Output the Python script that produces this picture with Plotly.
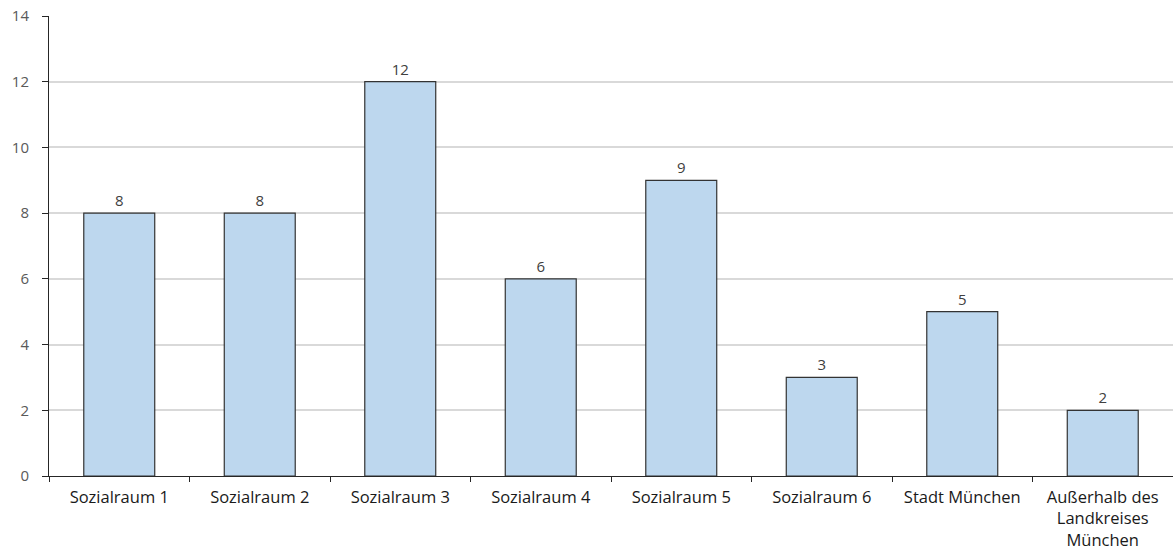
import plotly.graph_objects as go

# Anzahl je Herkunftsgebiet
categories = [
    "Sozialraum 1", "Sozialraum 2", "Sozialraum 3", "Sozialraum 4",
    "Sozialraum 5", "Sozialraum 6", "Stadt München",
    "Außerhalb des<br>Landkreises<br>München",
]
values = [8, 8, 12, 6, 9, 3, 5, 2]
y_ticks = [0, 2, 4, 6, 8, 10, 12, 14]

FONT = "Open Sans, DejaVu Sans, sans-serif"

fig = go.Figure(
    go.Bar(
        x=categories,
        y=values,
        width=0.505,
        marker=dict(color="#BDD7EE", line=dict(color="#333333", width=1.2)),
        text=[str(v) for v in values],
        textposition="outside",
        textfont=dict(family=FONT, size=15, color="#404040"),
        cliponaxis=False,
    )
)

fig.update_layout(
    width=1173,
    height=550,
    margin=dict(l=49, r=0, t=16, b=74),
    plot_bgcolor="white",
    paper_bgcolor="white",
    showlegend=False,
    font=dict(family=FONT, size=15, color="#404040"),
)

fig.update_xaxes(
    type="category",
    showline=True,
    linecolor="#262626",
    linewidth=1,
    ticks="outside",
    tickson="boundaries",
    ticklen=5,
    tickcolor="#262626",
    tickfont=dict(family=FONT, size=16.5, color="#1a1a1a"),
    ticklabelstandoff=6,
    showgrid=False,
)

fig.update_yaxes(
    range=[0, 14],
    tickvals=y_ticks,
    showline=True,
    linecolor="#262626",
    linewidth=1,
    ticks="outside",
    ticklen=6,
    tickcolor="#262626",
    tickfont=dict(family=FONT, size=15, color="#595959"),
    ticklabelstandoff=10,
    showgrid=True,
    gridcolor="#D9D9D9",
    gridwidth=1.5,
    zeroline=False,
)

fig.write_html("out.html")
